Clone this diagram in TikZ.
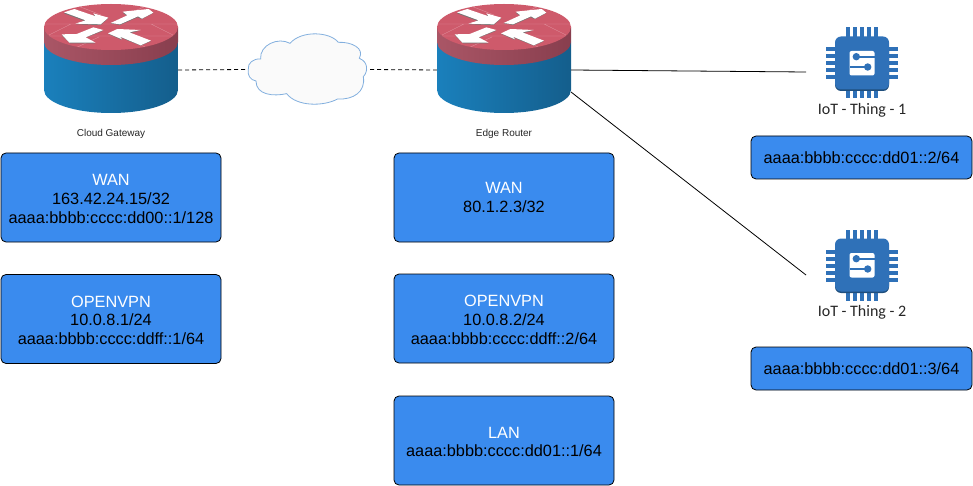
\documentclass[tikz,border=0pt]{standalone}
\usepackage{fontspec}
\setmainfont{Liberation Sans}
\newfontfamily\thingfont{Carlito}

\definecolor{boxblue}{HTML}{3A8BEE}
\definecolor{chipblue}{HTML}{2F71B8}
\definecolor{chipdark}{HTML}{1F4E7C}
\definecolor{routertop}{HTML}{CE5A6B}
\definecolor{routerbrick}{HTML}{E08E9B}
\definecolor{cloudline}{HTML}{82AFDE}
\definecolor{routerblueL}{HTML}{1A80BC}
\definecolor{routerblueR}{HTML}{145E8C}
\definecolor{routerredL}{HTML}{AA5666}
\definecolor{routerredR}{HTML}{883E4E}

\newcommand{\boxhead}[1]{\rule{0pt}{14pt}\textcolor{white}{#1}}

\tikzset{
  netbox/.style={draw=black,line width=.8pt,fill=boxblue,rounded corners=5pt,
    minimum width=220pt,minimum height=89pt,align=center,text=black,
    font=\fontsize{16.3}{18.7}\selectfont},
  addrbox/.style={netbox,minimum width=221pt,minimum height=43pt},
  routerspot/.style={minimum width=134pt,minimum height=86pt,inner sep=0pt},
  cloudspot/.style={minimum width=119pt,minimum height=73pt,inner sep=0pt},
  routerlabel/.style={font=\fontsize{10}{12}\selectfont,text=black!85},
  thinglabel/.style={font=\thingfont\fontsize{16}{19}\selectfont,text=black!85},
  link/.style={line width=.8pt},
  dashlink/.style={link,dash pattern=on 4pt off 3pt},
  router/.pic={
    \shade[left color=routerblueL,right color=routerblueR]
      (-67,15) -- (-67,63) arc[start angle=180,end angle=360,x radius=67pt,y radius=23pt] -- (67,15) -- cycle;
    \shade[left color=routerredL,right color=routerredR]
      (-67,0) -- (-67,15) arc[start angle=180,end angle=360,x radius=67pt,y radius=23pt] -- (67,0) -- cycle;
    \fill[routertop] (0,0) ellipse[x radius=67pt,y radius=23pt];
    \begin{scope}
      \clip (0,0) ellipse[x radius=67pt,y radius=23pt];
      \draw[routerbrick,line width=.4pt] (-67,-3) -- (67,-3) (-67,9) -- (67,9)
        (-38,-23) -- (-10,-12) (40,-23) -- (14,-12) (-40,23) -- (-12,10) (40,23) -- (14,10)
        (-62,8) -- (-40,-3) (62,8) -- (40,-3);
    \end{scope}
    \begin{scope}[x=.3333pt,y=-.3333pt,shift={(-213,-81)}]
      \fill[black!55] (72,40) -- (103,30) -- (165,52) -- (160,44) -- (204,55) -- (182,75) -- (108,73) -- (137,64) -- cycle;
      \fill[black!55] (212,70) -- (262,48) -- (248,38) -- (326,29) -- (340,39) -- (306,57) -- (292,52) -- (240,75) -- cycle;
      \fill[black!55] (190,92) -- (135,114) -- (165,130) -- (90,130) -- (65,106) -- (112,105) -- (160,85) -- cycle;
      \fill[black!55] (205,102) -- (232,90) -- (300,92) -- (268,100) -- (332,124) -- (302,137) -- (240,112) -- (246,120) -- cycle;
      \fill[white] (72,37) -- (103,27) -- (167,49) -- (160,40) -- (205,53) -- (182,73) -- (106,71) -- (137,61) -- cycle;
      \fill[white] (212,69) -- (262,46) -- (248,35) -- (326,27) -- (340,38) -- (306,56) -- (294,49) -- (240,73) -- cycle;
      \fill[white] (190,90) -- (137,112) -- (167,128) -- (88,128) -- (65,103) -- (110,102) -- (160,82) -- cycle;
      \fill[white] (204,100) -- (232,87) -- (302,90) -- (268,97) -- (333,122) -- (302,136) -- (240,110) -- (246,118) -- cycle;
    \end{scope}
  },
  chip/.pic={
    \foreach \i in {-14,-7,0,7,14} {
      \fill[chipblue] (\i-2,-36) rectangle (\i+2,35);
      \fill[chipblue] (-36,\i-2) rectangle (36,\i+2);
    }
    \fill[chipdark,rounded corners=6pt] (-27,-20) rectangle (27,27.5);
    \fill[chipblue,rounded corners=6pt] (-27,-27) rectangle (27,26);
    \fill[white,rounded corners=2pt] (-12.5,-12.5) rectangle (12.5,12);
    \fill[chipblue] (-5.5,-7.8) rectangle (12.5,-5.8);
    \fill[chipblue] (-12.5,2.5) rectangle (5.5,4.5);
    \fill[chipblue] (-5.7,-6.8) circle (3.7pt);
    \fill[chipblue] (5.7,3.5) circle (3.7pt);
  }
}

\begin{document}
\begin{tikzpicture}[x=1pt,y=-1pt]
  \useasboundingbox (0,0) rectangle (973,486);

  % routers and cloud
  \node[routerspot] (gateway) at (111,70) {};
  \node[routerspot] (edge)    at (504,70) {};
  \pic at (111,27) {router};
  \pic at (504,27) {router};
  \node[routerlabel] (gatewaylabel) at (111,133.5) {Cloud Gateway};
  \node[routerlabel] (edgelabel)    at (504,133.5) {Edge Router};
  \node[cloudspot] (net) at (307.5,69.5) {};
  \begin{scope}[x=.3333pt,y=-.3333pt,shift={(720,75)}]
    \draw[cloudline,line width=.8pt,fill=black!2] (25,133)
      .. controls (22,115) and (40,100) .. (62,102)
      .. controls (58,60) and (115,35) .. (150,55)
      .. controls (185,15) and (270,20) .. (295,52)
      .. controls (335,50) and (375,70) .. (358,100)
      .. controls (385,110) and (385,140) .. (370,155)
      .. controls (378,200) and (340,225) .. (293,222)
      .. controls (250,245) and (170,245) .. (140,206)
      .. controls (100,215) and (48,210) .. (48,168)
      .. controls (30,165) and (22,150) .. (25,133) -- cycle;
  \end{scope}

  % things
  \pic at (862,63.5) {chip};
  \pic at (862,265.5) {chip};
  \node[thinglabel] (thinglabela) at (862,110.5) {IoT - Thing - 1};
  \node[thinglabel] (thinglabelb) at (862,312.5) {IoT - Thing - 2};
  \coordinate (edgeport) at (571,92);
  \coordinate (thinga) at (806,72);
  \coordinate (thingb) at (806,275);
  \coordinate (netright) at (370,69.5);

  % links
  \draw[dashlink] (gateway.east) -- (net.west);
  \draw[dashlink] (netright) -- (edge.west);
  \draw[link] (edge.east) -- (thinga);
  \draw[link] (edgeport) -- (thingb);

  % addresses
  \node[netbox] (gatewaywan) at (111,197.5) {\boxhead{WAN}\\163.42.24.15/32\\aaaa:bbbb:cccc:dd00::1/128};
  \node[netbox] (gatewayvpn) at (111,319) {\boxhead{OPENVPN}\\10.0.8.1/24\\aaaa:bbbb:cccc:ddff::1/64};
  \node[netbox] (edgewan)    at (504,197.5) {\textcolor{white}{WAN}\\80.1.2.3/32};
  \node[netbox] (edgevpn)    at (504,318.5) {\boxhead{OPENVPN}\\10.0.8.2/24\\aaaa:bbbb:cccc:ddff::2/64};
  \node[netbox] (edgelan)    at (504,440.5) {\boxhead{LAN}\\aaaa:bbbb:cccc:dd01::1/64};
  \node[addrbox] (thingaddra) at (861.5,157.5) {aaaa:bbbb:cccc:dd01::2/64};
  \node[addrbox] (thingaddrb) at (861.5,368.5) {aaaa:bbbb:cccc:dd01::3/64};
\end{tikzpicture}
\end{document}
